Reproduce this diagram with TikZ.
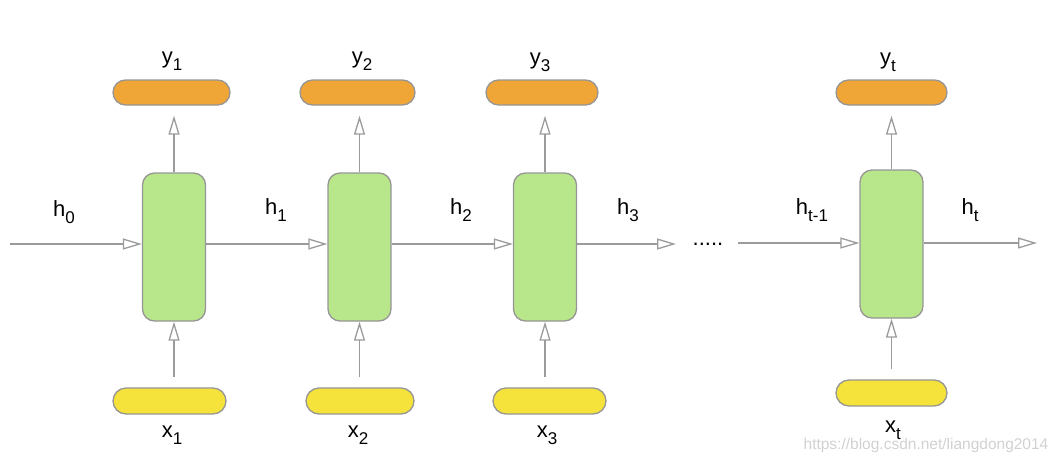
\documentclass[tikz,border=0pt]{standalone}
\usepackage{fontspec}
\setmainfont{Liberation Sans}
\usetikzlibrary{arrows.meta}
\definecolor{cellgreen}{RGB}{184,230,138}
\definecolor{outorange}{RGB}{240,165,55}
\definecolor{inyellow}{RGB}{245,226,58}
\definecolor{edgegray}{RGB}{150,150,150}
\definecolor{linegray}{RGB}{155,155,155}
\newcommand\sublab[2]{#1\raisebox{-7pt}{\fontsize{17}{17}\selectfont #2}}
\tikzset{
  cell/.style={draw=edgegray, line width=1.3pt, fill=cellgreen, rounded corners=12pt, minimum width=63pt, minimum height=148pt, inner sep=0pt},
  outpill/.style={draw=edgegray, line width=1.3pt, fill=outorange, rounded corners=12.5pt, minimum height=25pt, inner sep=0pt},
  inpill/.style={draw=edgegray, line width=1.3pt, fill=inyellow, rounded corners=13pt, minimum height=26pt, inner sep=0pt},
  lbl/.style={font=\fontsize{22}{24}\selectfont, inner sep=0pt},
  conn/.style={draw=linegray, line width=1.4pt, -{Triangle[open, length=19pt, width=11pt, line width=1.3pt]}},
}
\begin{document}
\begin{tikzpicture}[x=1pt,y=-1pt]
\useasboundingbox (0,0) rectangle (1062,464);
% cells
\node[cell] (c1) at (174,247) {};
\node[cell] (c2) at (359.5,247) {};
\node[cell] (c3) at (545,247) {};
\node[cell] (ct) at (891.5,244) {};
% outputs
\node[outpill, minimum width=117pt] (o1) at (171.5,92.5) {};
\node[outpill, minimum width=115pt] (o2) at (357.5,92.5) {};
\node[outpill, minimum width=112pt] (o3) at (542,92.5) {};
\node[outpill, minimum width=111pt] (ot) at (891.5,92.5) {};
% inputs
\node[inpill, minimum width=113pt] (i1) at (169.5,401) {};
\node[inpill, minimum width=108pt] (i2) at (360,401) {};
\node[inpill, minimum width=113pt] (i3) at (549.5,401) {};
\node[inpill, minimum width=111pt] (it) at (891.5,393) {};
% free ends
\coordinate (hin) at (10,244);
\coordinate (h3end) at (676,244);
\coordinate (htm1start) at (738,243);
\coordinate (htend) at (1037,243);
% vertical connectors
\foreach \c/\o/\i in {c1/o1/i1, c2/o2/i2, c3/o3/i3, ct/ot/it} {
  \draw[conn, shorten >=10pt] (\c.north) -- (\c.north |- \o.south);
  \draw[conn, shorten <=10pt] (\c.south |- \i.north) -- (\c.south);
}
% horizontal connectors
\draw[conn] (hin) -- ([yshift=3pt]c1.west);
\draw[conn] ([yshift=3pt]c1.east) -- ([yshift=3pt]c2.west);
\draw[conn] ([yshift=3pt]c2.east) -- ([yshift=3pt]c3.west);
\draw[conn] ([yshift=3pt]c3.east) -- (h3end);
\draw[conn] (htm1start) -- ([yshift=1pt]ct.west);
\draw[conn] ([yshift=1pt]ct.east) -- (htend);
\node[lbl] (dots) at (708,244) {.....};
% labels
\node[lbl] (lh0) at (64,212) {\sublab{h}{0}};
\node[lbl] (lh1) at (276,210) {\sublab{h}{1}};
\node[lbl] (lh2) at (461,210) {\sublab{h}{2}};
\node[lbl] (lh3) at (628,210) {\sublab{h}{3}};
\node[lbl] (lhtm) at (812,210) {\sublab{h}{t-1}};
\node[lbl] (lht) at (970,210) {\sublab{h}{t}};
\node[lbl] (ly1) at (172,61) {\sublab{y}{1}};
\node[lbl] (ly2) at (362,61) {\sublab{y}{2}};
\node[lbl] (ly3) at (540,62) {\sublab{y}{3}};
\node[lbl] (lyt) at (888,62) {\sublab{y}{t}};
\node[lbl] (lx1) at (172,435) {\sublab{x}{1}};
\node[lbl] (lx2) at (358,435) {\sublab{x}{2}};
\node[lbl] (lx3) at (547,435) {\sublab{x}{3}};
\node[lbl] (lxt) at (893,430) {\sublab{x}{t}};
\node[font=\fontsize{15.5}{17}\selectfont, text=black!18, inner sep=0pt] (wm) at (926,445) {https://blog.csdn.net/liangdong2014};
\end{tikzpicture}
\end{document}
